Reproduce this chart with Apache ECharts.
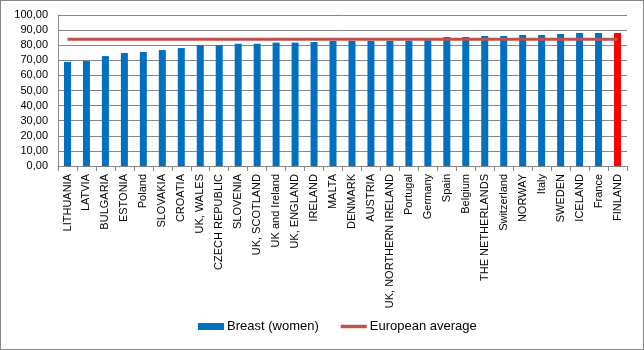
<!DOCTYPE html>
<html>
<head>
<meta charset="utf-8">
<script src="https://cdn.jsdelivr.net/npm/echarts@6/dist/echarts.min.js"></script>
<style>
  html, body { margin: 0; padding: 0; background: #fff; }
  #chart { width: 642px; height: 348px; border: 1px solid #868686; }
</style>
</head>
<body>
<div id="chart"></div>
<script>
// survival values
var countries = ['LITHUANIA', 'LATVIA', 'BULGARIA', 'ESTONIA', 'Poland', 'SLOVAKIA', 'CROATIA',
  'UK, WALES', 'CZECH REPUBLIC', 'SLOVENIA', 'UK, SCOTLAND', 'UK and Ireland', 'UK, ENGLAND',
  'IRELAND', 'MALTA', 'DENMARK', 'AUSTRIA', 'UK, NORTHERN IRELAND', 'Portugal', 'Germany',
  'Spain', 'Belgium', 'THE NETHERLANDS', 'Switzerland', 'NORWAY', 'Italy', 'SWEDEN',
  'ICELAND', 'France', 'FINLAND'];
var breastWomen = [68.9, 69.5, 72.8, 74.8, 75.5, 76.8, 78.1,
  80.1, 80.1, 81.0, 81.0, 81.7, 81.7,
  82.1, 82.8, 82.8, 82.8, 82.8, 83.0, 83.3,
  85.4, 85.4, 86.1, 86.1, 86.8, 86.8, 87.4,
  88.1, 88.1, 88.1];
var europeanAverage = 84.0;
var highlighted = 'FINLAND';

var averageLine = countries.map(function () { return europeanAverage; });

var chart = echarts.init(document.getElementById('chart'));
var font = 'Liberation Sans, Arial, sans-serif';

chart.setOption({
  animation: false,
  grid: { left: 57, right: 16, top: 14, bottom: 183 },
  legend: {
    bottom: 11,
    left: 192,
    itemGap: 22,
    itemWidth: 26,
    itemHeight: 7,
    textStyle: { fontFamily: font, fontSize: 13, color: '#000', padding: [0, 0, 0, -2] },
    data: [
      { name: 'Breast (women)', icon: 'rect', itemStyle: { color: '#0070C0' } },
      { name: 'European average', icon: 'path://M0,0 L30,0 L30,4 L0,4 Z', itemStyle: { color: '#C0504D' } }
    ]
  },
  xAxis: {
    type: 'category',
    data: countries,
    axisLine: { lineStyle: { color: '#868686' } },
    axisTick: { show: true, length: 5, lineStyle: { color: '#868686' } },
    axisLabel: {
      rotate: 90,
      interval: 0,
      margin: 8,
      fontFamily: font,
      fontSize: 11,
      color: '#000'
    }
  },
  yAxis: {
    type: 'value',
    min: 0,
    max: 100,
    interval: 10,
    axisLine: { show: true, lineStyle: { color: '#868686' } },
    axisTick: { show: false },
    splitLine: { lineStyle: { color: '#868686' } },
    axisLabel: {
      margin: 10,
      fontFamily: font,
      fontSize: 11,
      color: '#000',
      formatter: function (v) { return v.toFixed(2).replace('.', ','); }
    }
  },
  series: [
    {
      name: 'Breast (women)',
      type: 'bar',
      barWidth: 7,
      data: breastWomen,
      itemStyle: {
        color: function (p) { return p.name === highlighted ? '#FF0000' : '#0070C0'; }
      }
    },
    {
      name: 'European average',
      type: 'line',
      data: averageLine,
      symbol: 'none',
      lineStyle: { color: '#C0504D', width: 3 },
      itemStyle: { color: '#C0504D' }
    }
  ]
});
</script>
</body>
</html>
